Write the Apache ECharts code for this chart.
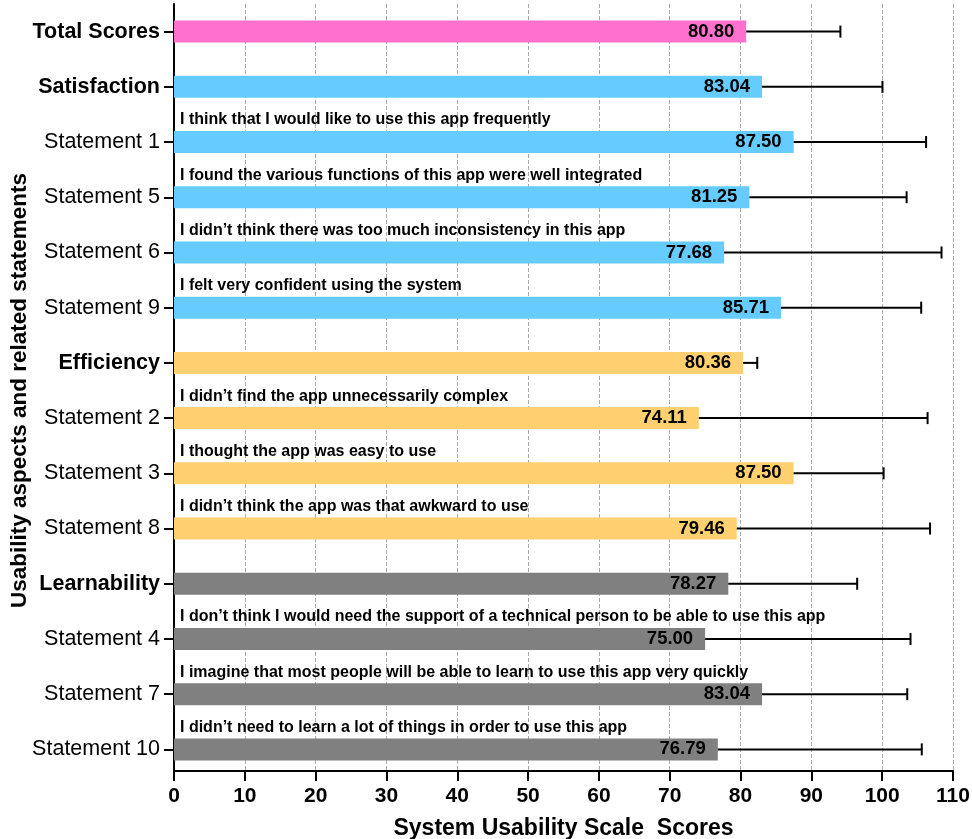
<!DOCTYPE html>
<html>
	<head>
		<meta charset="utf-8">
		<title></title>
		<script type="text/javascript" src="https://cdn.jsdelivr.net/npm/echarts@6/dist/echarts.min.js"></script>
		<style>
			html, body { margin: 0; padding: 0; background: #fff; }
			#chart { width: 972px; height: 839px; }
		</style>
	</head>
	<body>
		<div id="chart"></div>
		<script type="text/javascript">
			// categories, top to bottom
			var categories = ['Total Scores', 'Satisfaction', 'Statement 1', 'Statement 5', 'Statement 6', 'Statement 9',
				'Efficiency', 'Statement 2', 'Statement 3', 'Statement 8',
				'Learnability', 'Statement 4', 'Statement 7', 'Statement 10'];
			var groupNames = ['Total Scores', 'Satisfaction', 'Efficiency', 'Learnability'];
			var scores = [80.80, 83.04, 87.50, 81.25, 77.68, 85.71, 80.36, 74.11, 87.50, 79.46, 78.27, 75.00, 83.04, 76.79];
			// standard deviation (error bar to the right)
			var sds = [13.3, 17.0, 18.7, 22.2, 30.7, 19.8, 2.0, 32.3, 12.7, 27.3, 18.2, 29.0, 20.5, 28.8];
			var notes = ['', '',
				'I think that I would like to use this app frequently',
				'I found the various functions of this app were well integrated',
				'I didn’t think there was too much inconsistency in this app',
				'I felt very confident using the system',
				'',
				'I didn’t find the app unnecessarily complex',
				'I thought the app was easy to use',
				'I didn’t think the app was that awkward to use',
				'',
				'I don’t think I would need the support of a technical person to be able to use this app',
				'I imagine that most people will be able to learn to use this app very quickly',
				'I didn’t need to learn a lot of things in order to use this app'];
			var groupOf = [0, 1, 1, 1, 1, 1, 2, 2, 2, 2, 3, 3, 3, 3];
			var groupColors = ['#ff70cf', '#66ccff', '#ffd070', '#808080'];
			var xTicks = [0, 10, 20, 30, 40, 50, 60, 70, 80, 90, 100, 110];

			var FONT = "'Liberation Sans', Arial, sans-serif";

			var barData = [];
			var errData = [];
			for (var i = 0; i < categories.length; i++) {
				barData.push({
					value: scores[i],
					itemStyle: { color: groupColors[groupOf[i]] }
				});
				errData.push([i, scores[i], scores[i] + sds[i]]);
			}

			var myChart = echarts.init(document.getElementById('chart'));
			var option = {
				animation: false,
				grid: {
					left: 174,
					right: 19,
					top: 4,
					bottom: 62,
					outerBoundsMode: 'none'
				},
				xAxis: {
					type: 'value',
					min: xTicks[0],
					max: xTicks[xTicks.length - 1],
					interval: 10,
					offset: -6,
					name: 'System Usability Scale  Scores',
					nameLocation: 'middle',
					nameGap: 46,
					nameMoveOverlap: false,
					nameTextStyle: { fontFamily: FONT, fontSize: 23, fontWeight: 'bold', color: '#000' },
					axisLine: { show: true, lineStyle: { color: '#000', width: 2 } },
					axisTick: { show: true, length: 10, lineStyle: { color: '#000', width: 2 } },
					axisLabel: { fontFamily: FONT, fontSize: 21, fontWeight: 'bold', color: '#000', margin: 15 },
					splitLine: { show: true, lineStyle: { color: '#aaa', type: 'dashed', width: 1 } }
				},
				yAxis: {
					type: 'category',
					inverse: true,
					data: categories,
					name: 'Usability aspects and related statements',
					nameLocation: 'middle',
					nameGap: 143,
					nameRotate: 90,
					nameMoveOverlap: false,
					nameTextStyle: { fontFamily: FONT, fontSize: 22.5, fontWeight: 'bold', color: '#000' },
					axisLine: { show: true, lineStyle: { color: '#000', width: 2 } },
					axisTick: { show: true, length: 10, alignWithLabel: true, lineStyle: { color: '#000', width: 2 } },
					axisLabel: {
						fontFamily: FONT,
						fontSize: 21.5,
						color: '#000',
						margin: 14,
						formatter: function(value) {
							if (groupNames.indexOf(value) >= 0) {
								return '{b|' + value + '}';
							}
							return value;
						},
						rich: {
							b: { fontFamily: FONT, fontSize: 21.5, fontWeight: 'bold', color: '#000' }
						}
					},
					splitLine: { show: false }
				},
				series: [{
					type: 'bar',
					data: barData,
					barWidth: 22,
					z: 2,
					label: {
						show: true,
						position: 'insideRight',
						distance: 12,
						fontFamily: FONT,
						fontSize: 18.5,
						fontWeight: 'bold',
						color: '#000',
						formatter: function(p) {
							return p.value.toFixed(2);
						}
					}
				}, {
					type: 'custom',
					data: errData,
					encode: { x: [1, 2], y: 0 },
					z: 3,
					renderItem: function(params, api) {
						var idx = api.value(0);
						var start = api.coord([api.value(1), idx]);
						var end = api.coord([api.value(2), idx]);
						var origin = api.coord([0, idx]);
						var capH = 6;
						var style = { stroke: '#000', lineWidth: 2 };
						var children = [{
							type: 'line',
							shape: { x1: start[0], y1: start[1], x2: end[0], y2: end[1] },
							style: style
						}, {
							type: 'line',
							shape: { x1: end[0], y1: end[1] - capH, x2: end[0], y2: end[1] + capH },
							style: style
						}];
						var note = notes[params.dataIndex];
						if (note) {
							children.push({
								type: 'text',
								x: origin[0] + 6,
								y: origin[1] - 22,
								style: {
									text: note,
									fontFamily: FONT,
									fontSize: 16,
									fontWeight: 'bold',
									fill: '#000',
									verticalAlign: 'middle',
									align: 'left'
								}
							});
						}
						return { type: 'group', children: children };
					}
				}]
			};

			myChart.setOption(option);
		</script>
	</body>
</html>
